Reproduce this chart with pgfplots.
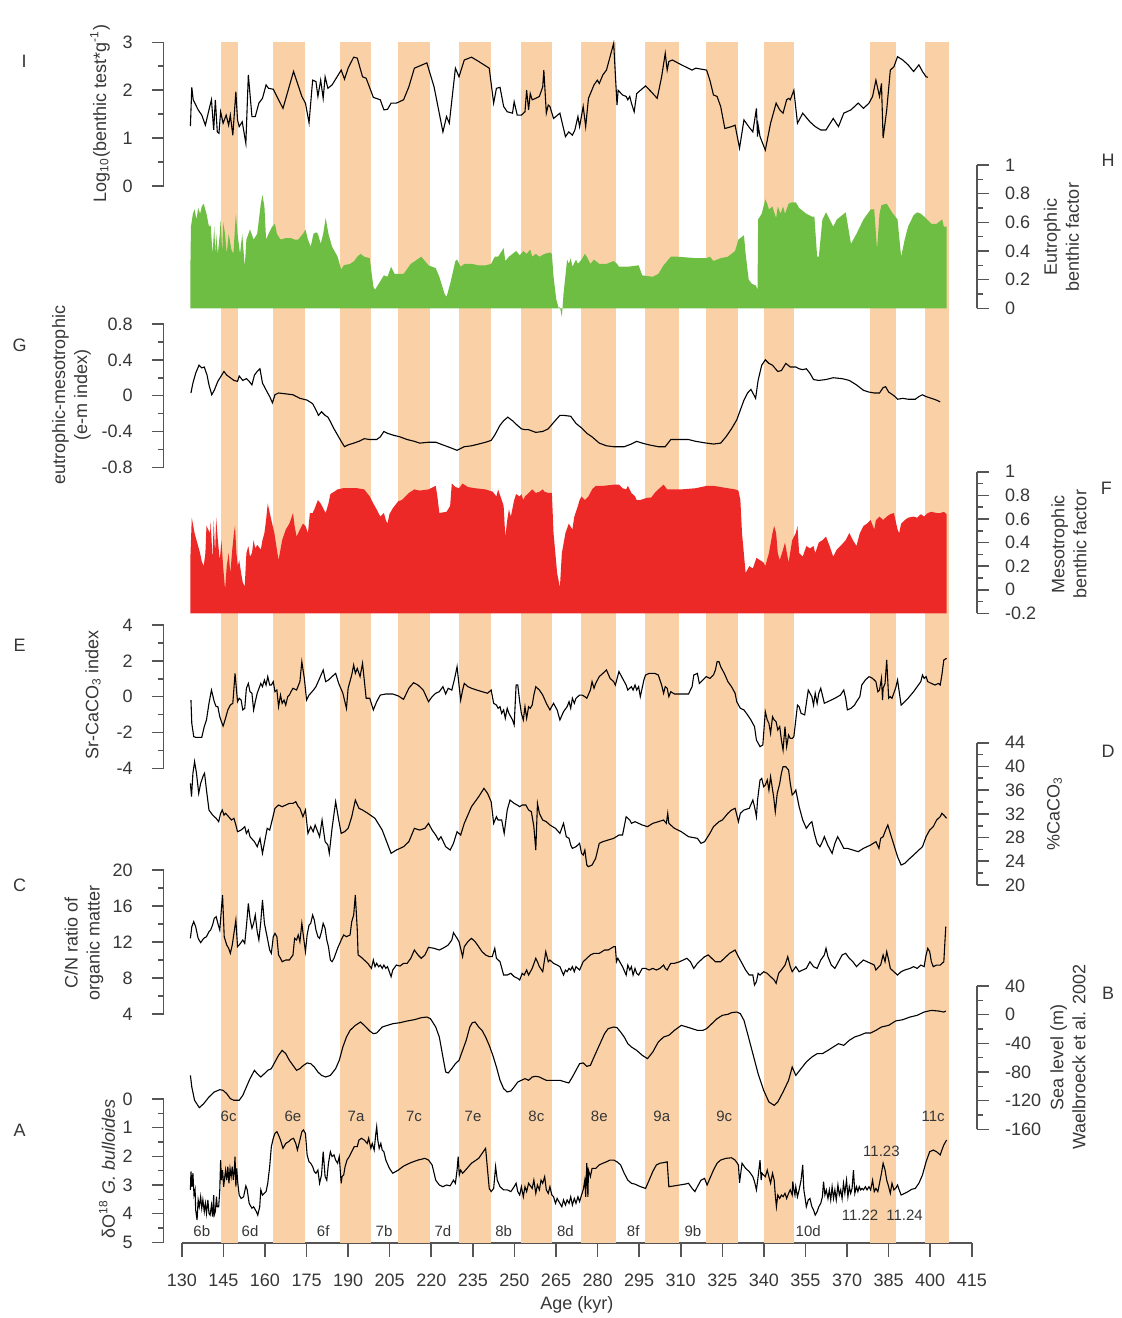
\documentclass[border=0pt]{standalone}
\usepackage{fontspec}
\setmainfont{Liberation Sans}
\usepackage{pgfplots}
\pgfplotsset{compat=1.18}
\definecolor{band}{RGB}{250,209,167}
\definecolor{eugreen}{RGB}{110,190,68}
\definecolor{mesored}{RGB}{236,41,38}
\definecolor{axgray}{RGB}{85,85,85}
\definecolor{txtgray}{RGB}{55,55,55}
\newcommand{\lbl}{\fontsize{9}{11}\selectfont}
\newcommand{\ann}{\fontsize{7.5}{9}\selectfont}
\pgfplotsset{
  panel/.style={scale only axis, width=406.7pt, xmin=123.43, xmax=416.87,
    axis x line=none, clip=false, anchor=south west,
    axis line style={-, draw=axgray, line width=0.8pt},
    tick style={draw=axgray, line width=0.8pt},
    tick align=outside, major tick length=6pt, minor tick length=3pt,
    minor y tick num=1,
    tick label style={font=\lbl, text=txtgray},
    /pgf/number format/assume math mode=true,
    /pgf/number format/fixed},
  lpanel/.style={axis y line=left, panel, yticklabel style={anchor=east, inner sep=0pt, xshift=-9.3pt}},
  rpanel/.style={axis y line=right, panel, yticklabel style={anchor=west, inner sep=0pt, xshift=7.8pt}},
  dline/.style={draw=black, line width=0.55pt},
}
\begin{document}
\begin{tikzpicture}
\useasboundingbox (0,0) rectangle (560.5pt,-659pt);
% ---------- background: bands and age axis
\begin{axis}[scale only axis, width=395pt, height=600.5pt, at={(90.9pt,-621.35pt)}, anchor=south west,
  xmin=130, xmax=415, ymin=0, ymax=1, axis x line=bottom, axis y line=none, clip=false,
  axis line style={-, draw=axgray, line width=0.8pt}, tick style={draw=axgray, line width=0.8pt},
  tick align=outside, major tick length=7pt,
  xtick={130,145,...,415},
  xticklabels={130,\raisebox{2.5pt}{145},160,\raisebox{2.5pt}{175},190,\raisebox{2.5pt}{205},220,\raisebox{2.5pt}{235},250,\raisebox{2.5pt}{265},280,\raisebox{2.5pt}{295},310,\raisebox{2.5pt}{325},340,\raisebox{2.5pt}{355},370,\raisebox{2.5pt}{385},400,\raisebox{2.5pt}{415}},
  xticklabel style={font=\lbl, text=txtgray, anchor=north, inner sep=0pt, yshift=-8.3pt}]
\addplot[fill=band, draw=none] coordinates {(144.03,0)(144.03,1)(150.35,1)(150.35,0)};
\addplot[fill=band, draw=none] coordinates {(162.86,0)(162.86,1)(174.30,1)(174.30,0)};
\addplot[fill=band, draw=none] coordinates {(187.07,0)(187.07,1)(198.40,1)(198.40,0)};
\addplot[fill=band, draw=none] coordinates {(208.07,0)(208.07,1)(219.39,1)(219.39,0)};
\addplot[fill=band, draw=none] coordinates {(230.11,0)(230.11,1)(241.58,1)(241.58,0)};
\addplot[fill=band, draw=none] coordinates {(252.26,0)(252.26,1)(263.59,1)(263.59,0)};
\addplot[fill=band, draw=none] coordinates {(274.16,0)(274.16,1)(286.78,1)(286.78,0)};
\addplot[fill=band, draw=none] coordinates {(297.10,0)(297.10,1)(309.33,1)(309.33,0)};
\addplot[fill=band, draw=none] coordinates {(319.25,0)(319.25,1)(330.61,1)(330.61,0)};
\addplot[fill=band, draw=none] coordinates {(340.14,0)(340.14,1)(350.81,1)(350.81,0)};
\addplot[fill=band, draw=none] coordinates {(378.27,0)(378.27,1)(387.54,1)(387.54,0)};
\addplot[fill=band, draw=none] coordinates {(398.25,0)(398.25,1)(406.62,1)(406.62,0)};
\end{axis}
% ---------- I
\begin{axis}[lpanel, at={(81.8pt,-93pt)}, height=71.85pt, ymin=0, ymax=3, ytick={0,1,2,3}]
\addplot[dline] coordinates {(133.1,1.25)(133.6,2.06)(134.1,1.80)(135.9,1.59)(137.2,1.48)(138.5,1.27)(139.8,1.59)(140.7,1.80)(141.5,1.17)(142.1,1.80)(142.8,1.13)(143.4,1.10)(144.0,1.55)(144.9,1.31)(146.0,1.48)(146.9,1.27)(147.5,1.48)(148.4,1.06)(149.5,1.97)(150.1,1.38)(150.7,1.24)(151.8,1.34)(153.1,0.89)(154.0,2.32)(155.3,1.45)(156.5,1.45)(157.8,1.73)(159.1,1.83)(160.4,2.11)(161.3,2.04)(163.0,2.02)(164.3,1.87)(166.5,1.62)(170.3,2.39)(173.3,1.87)(174.6,1.73)(175.9,1.32)(177.2,2.21)(178.4,2.18)(179.1,1.87)(180.1,2.21)(181.0,1.83)(181.7,2.28)(182.7,2.04)(184.2,2.11)(187.5,2.42)(188.7,2.23)(190.0,2.46)(192.0,2.69)(193.3,2.67)(195.2,2.28)(196.5,2.25)(199.1,1.85)(201.6,1.80)(202.9,1.59)(204.2,1.60)(205.5,1.73)(207.4,1.73)(210.0,1.80)(211.9,2.07)(213.9,2.46)(218.4,2.57)(221.0,2.07)(224.2,1.13)(225.5,1.45)(226.5,1.31)(228.7,2.46)(230.0,2.28)(231.9,2.63)(234.5,2.69)(237.1,2.60)(240.9,2.46)(242.5,1.73)(243.5,2.04)(244.8,2.06)(246.1,1.66)(247.4,1.55)(249.3,1.52)(249.9,1.76)(251.0,1.48)(252.5,1.48)(253.8,1.55)(254.4,2.00)(255.1,1.59)(255.7,1.93)(256.4,1.80)(257.7,1.83)(259.0,1.87)(260.2,2.07)(260.6,2.42)(261.5,1.52)(262.2,1.69)(262.8,1.66)(264.1,1.41)(266.4,1.52)(268.4,1.03)(269.6,1.13)(270.9,1.06)(271.8,1.17)(272.9,1.45)(273.5,1.24)(274.8,1.66)(275.7,1.24)(276.7,1.83)(278.7,2.11)(279.9,2.21)(280.6,2.14)(281.9,2.32)(283.2,2.42)(284.5,2.70)(285.8,2.98)(287.0,1.69)(287.4,2.00)(289.0,1.90)(290.3,1.87)(290.9,1.80)(291.6,1.87)(292.2,1.73)(293.2,1.55)(294.1,1.93)(297.3,2.09)(299.3,1.97)(301.5,1.83)(303.1,2.28)(304.4,2.77)(305.1,2.42)(305.7,2.60)(307.0,2.63)(310.2,2.53)(314.1,2.42)(315.4,2.46)(319.3,2.42)(320.5,2.21)(321.8,1.90)(323.1,1.87)(324.4,1.66)(325.9,1.20)(328.3,1.24)(329.6,1.27)(331.2,0.79)(332.8,1.38)(334.5,1.24)(336.0,1.13)(337.3,1.62)(337.7,1.03)(337.9,1.27)(338.6,1.03)(340.5,0.75)(342.4,1.31)(344.4,1.73)(345.7,1.59)(346.9,1.52)(348.2,1.80)(348.9,1.83)(349.5,1.80)(350.8,2.00)(352.1,1.31)(354.0,1.52)(356.6,1.34)(358.5,1.24)(360.5,1.17)(362.4,1.17)(365.0,1.41)(366.9,1.24)(368.8,1.52)(371.4,1.59)(374.0,1.73)(375.9,1.62)(377.9,1.73)(379.2,1.87)(380.4,2.21)(381.7,1.87)(382.4,2.14)(383.0,1.00)(384.3,1.59)(385.6,2.42)(386.9,2.49)(388.2,2.70)(390.1,2.63)(392.0,2.53)(394.0,2.39)(395.9,2.53)(397.2,2.39)(398.5,2.28)(399.1,2.27)};
\end{axis}
% ---------- H
\begin{axis}[rpanel, at={(81.8pt,-154.15pt)}, height=71.65pt, ymin=0, ymax=1, ytick={0,0.2,0.4,0.6,0.8,1}]
\addplot[fill=eugreen, draw=none] coordinates {(133.1,0)(133.1,0.29)(133.3,0.57)(134.0,0.66)(134.6,0.69)(135.3,0.62)(135.9,0.70)(136.6,0.66)(137.2,0.71)(137.9,0.73)(138.9,0.66)(139.8,0.57)(140.4,0.58)(141.1,0.38)(141.7,0.57)(142.1,0.38)(142.4,0.52)(143.0,0.38)(143.7,0.52)(144.0,0.62)(144.6,0.38)(144.9,0.60)(145.6,0.52)(146.2,0.38)(146.9,0.52)(147.9,0.41)(148.6,0.38)(149.5,0.66)(150.1,0.52)(151.0,0.38)(151.8,0.52)(152.7,0.29)(153.3,0.48)(154.6,0.55)(155.9,0.48)(157.2,0.52)(158.5,0.73)(159.1,0.79)(159.8,0.71)(160.4,0.48)(161.3,0.52)(162.6,0.57)(163.6,0.59)(164.3,0.52)(165.6,0.48)(167.5,0.49)(169.4,0.49)(170.7,0.48)(172.0,0.48)(173.7,0.52)(174.6,0.55)(175.5,0.48)(176.5,0.43)(177.5,0.52)(178.4,0.53)(179.1,0.52)(180.1,0.45)(181.0,0.52)(181.9,0.63)(182.9,0.52)(184.2,0.43)(186.2,0.36)(187.5,0.27)(188.4,0.30)(190.7,0.31)(192.2,0.33)(193.3,0.36)(194.5,0.38)(195.8,0.36)(197.8,0.35)(199.1,0.15)(199.7,0.13)(201.0,0.17)(202.9,0.23)(204.2,0.22)(205.5,0.29)(206.8,0.24)(208.1,0.24)(210.0,0.24)(212.6,0.31)(216.4,0.36)(219.0,0.30)(221.6,0.28)(222.9,0.22)(224.8,0.10)(225.5,0.08)(226.8,0.17)(228.7,0.33)(229.3,0.34)(230.6,0.29)(231.9,0.31)(234.5,0.31)(237.1,0.30)(239.6,0.30)(241.6,0.31)(242.9,0.36)(244.1,0.36)(246.1,0.42)(246.7,0.33)(248.0,0.36)(249.3,0.38)(250.6,0.40)(251.9,0.37)(253.2,0.40)(254.4,0.38)(255.7,0.41)(256.4,0.36)(257.7,0.38)(259.0,0.36)(260.9,0.38)(262.8,0.39)(263.5,0.38)(264.1,0.22)(265.1,0.06)(266.0,0.0)(266.4,0.01)(267.1,-0.06)(267.7,0.10)(269.0,0.34)(269.6,0.31)(270.3,0.35)(270.9,0.29)(272.2,0.34)(272.9,0.31)(274.2,0.34)(275.4,0.38)(276.1,0.36)(277.4,0.31)(278.7,0.34)(280.6,0.31)(283.2,0.31)(285.8,0.33)(287.0,0.31)(287.7,0.29)(290.9,0.29)(294.8,0.30)(296.1,0.23)(299.9,0.22)(301.9,0.24)(303.8,0.30)(306.4,0.36)(308.9,0.36)(315.4,0.35)(319.3,0.35)(320.5,0.36)(321.8,0.33)(324.4,0.35)(327.0,0.36)(329.6,0.40)(330.8,0.48)(332.8,0.51)(333.4,0.38)(334.5,0.20)(335.7,0.17)(337.0,0.16)(337.3,0.15)(337.7,0.13)(337.9,0.62)(339.2,0.66)(340.5,0.76)(341.2,0.73)(341.8,0.69)(343.1,0.71)(343.7,0.67)(344.4,0.63)(345.0,0.71)(346.0,0.66)(346.9,0.71)(347.6,0.66)(348.9,0.73)(350.2,0.74)(351.5,0.74)(352.7,0.70)(355.3,0.66)(357.3,0.64)(358.2,0.64)(359.2,0.36)(359.8,0.36)(361.1,0.62)(362.4,0.67)(363.7,0.62)(365.0,0.57)(366.3,0.62)(368.9,0.66)(369.5,0.67)(371.4,0.45)(373.4,0.52)(375.9,0.62)(378.5,0.69)(379.8,0.69)(380.8,0.41)(381.7,0.66)(382.4,0.72)(384.3,0.73)(386.2,0.67)(388.2,0.62)(389.5,0.36)(390.8,0.48)(392.0,0.57)(394.0,0.65)(395.3,0.67)(396.6,0.66)(397.8,0.64)(400.4,0.59)(402.3,0.59)(404.3,0.62)(404.9,0.57)(405.9,0.57)(405.9,0)};
\end{axis}
% ---------- G
\begin{axis}[lpanel, at={(81.8pt,-233.65pt)}, height=71.65pt, ymin=-0.8, ymax=0.8, ytick={-0.8,-0.4,0,0.4,0.8}]
\addplot[dline] coordinates {(133.3,0.03)(134.0,0.14)(135.0,0.25)(136.2,0.34)(137.2,0.31)(138.1,0.32)(139.1,0.23)(139.8,0.12)(140.8,0.01)(141.7,0.06)(143.0,0.16)(144.0,0.21)(145.2,0.27)(146.2,0.23)(147.5,0.20)(148.8,0.17)(150.1,0.16)(150.7,0.22)(152.0,0.17)(153.3,0.19)(154.3,0.16)(155.3,0.12)(156.2,0.23)(157.2,0.27)(158.2,0.30)(159.1,0.14)(159.8,0.10)(160.8,0.04)(161.7,-0.01)(162.7,-0.08)(163.6,0.01)(164.9,0.03)(167.5,0.02)(170.1,0.01)(172.6,-0.03)(175.2,-0.05)(177.2,-0.09)(178.4,-0.16)(179.3,-0.22)(180.4,-0.18)(181.7,-0.22)(182.7,-0.24)(183.6,-0.29)(184.9,-0.37)(186.2,-0.44)(187.5,-0.51)(188.7,-0.57)(190.0,-0.55)(192.0,-0.53)(193.9,-0.51)(195.8,-0.48)(197.8,-0.49)(200.3,-0.49)(201.6,-0.46)(202.9,-0.40)(204.2,-0.42)(206.1,-0.44)(208.7,-0.46)(211.3,-0.49)(213.9,-0.51)(215.8,-0.53)(219.0,-0.52)(221.6,-0.52)(224.2,-0.55)(226.8,-0.58)(229.3,-0.61)(230.6,-0.59)(231.9,-0.57)(234.5,-0.56)(237.1,-0.54)(239.6,-0.52)(241.6,-0.50)(242.9,-0.44)(244.8,-0.33)(246.1,-0.28)(247.6,-0.24)(249.3,-0.28)(251.0,-0.33)(252.5,-0.37)(253.8,-0.38)(255.1,-0.38)(257.7,-0.41)(260.2,-0.40)(262.2,-0.37)(264.1,-0.30)(266.4,-0.22)(267.7,-0.22)(270.3,-0.23)(272.2,-0.31)(274.2,-0.36)(276.1,-0.42)(278.0,-0.46)(280.6,-0.53)(283.2,-0.56)(285.8,-0.57)(289.6,-0.57)(292.2,-0.54)(294.1,-0.51)(296.1,-0.53)(298.6,-0.55)(301.9,-0.57)(304.4,-0.57)(306.4,-0.49)(308.9,-0.49)(312.8,-0.49)(315.4,-0.51)(319.3,-0.53)(321.8,-0.54)(324.4,-0.53)(326.3,-0.46)(328.3,-0.37)(330.2,-0.27)(331.5,-0.16)(332.8,-0.05)(334.1,0.03)(335.3,0.07)(336.0,0.03)(337.0,-0.03)(337.9,0.17)(339.2,0.34)(340.5,0.40)(341.8,0.36)(343.1,0.34)(345.0,0.27)(346.3,0.28)(347.9,0.36)(349.5,0.32)(351.5,0.32)(352.7,0.30)(354.0,0.29)(355.3,0.30)(356.6,0.25)(357.9,0.18)(359.8,0.17)(362.4,0.18)(365.0,0.20)(368.2,0.19)(370.8,0.17)(373.4,0.12)(375.9,0.06)(377.9,0.04)(379.8,0.03)(381.7,0.03)(383.0,0.09)(383.9,0.10)(385.0,0.04)(386.9,0.00)(388.2,-0.04)(390.1,-0.03)(392.0,-0.04)(394.6,-0.04)(395.9,-0.01)(397.2,0.01)(398.5,-0.01)(400.4,-0.03)(402.3,-0.05)(403.6,-0.07)};
\end{axis}
% ---------- F
\begin{axis}[rpanel, at={(81.8pt,-306.65pt)}, height=70.8pt, ymin=-0.2, ymax=1, ytick={-0.2,0,0.2,0.4,0.6,0.8,1}]
\addplot[fill=mesored, draw=none] coordinates {(133.1,-0.2)(133.1,0.28)(133.6,0.61)(134.6,0.48)(135.3,0.42)(135.9,0.37)(136.6,0.31)(137.2,0.24)(137.9,0.20)(138.5,0.31)(138.9,0.54)(139.5,0.51)(140.2,0.48)(140.4,0.58)(141.1,0.25)(141.5,0.59)(142.0,0.31)(142.4,0.61)(143.0,0.42)(143.7,0.25)(144.3,0.42)(144.9,0.20)(145.6,0.00)(146.2,0.20)(146.9,0.31)(147.5,0.14)(148.2,0.34)(148.8,0.48)(149.2,0.54)(149.7,0.31)(150.2,0.20)(150.7,0.25)(151.4,0.14)(152.0,0.06)(152.7,0.03)(153.3,0.31)(154.0,0.37)(154.6,0.28)(155.3,0.31)(155.9,0.42)(156.5,0.35)(157.2,0.38)(158.5,0.34)(159.1,0.42)(159.8,0.48)(160.4,0.59)(161.0,0.73)(162.3,0.59)(163.4,0.48)(164.3,0.34)(164.9,0.25)(166.2,0.42)(167.5,0.51)(168.8,0.56)(170.1,0.65)(170.7,0.54)(171.4,0.45)(172.6,0.51)(173.7,0.56)(174.6,0.54)(175.5,0.48)(176.2,0.65)(177.2,0.65)(177.8,0.68)(179.1,0.76)(180.1,0.73)(181.0,0.69)(181.9,0.65)(182.9,0.73)(183.6,0.81)(184.9,0.83)(186.2,0.85)(188.1,0.86)(190.0,0.86)(193.3,0.86)(195.8,0.85)(197.8,0.79)(199.1,0.73)(200.3,0.68)(201.6,0.62)(202.9,0.65)(203.6,0.59)(204.2,0.56)(204.9,0.64)(206.1,0.69)(208.1,0.75)(209.4,0.76)(211.9,0.82)(213.9,0.85)(215.8,0.84)(219.0,0.85)(221.6,0.88)(222.2,0.79)(222.9,0.65)(225.5,0.66)(226.8,0.71)(227.4,0.90)(228.7,0.87)(230.0,0.86)(231.3,0.90)(233.2,0.87)(235.8,0.86)(239.6,0.85)(242.2,0.83)(243.5,0.79)(244.1,0.85)(245.4,0.76)(246.1,0.71)(246.7,0.45)(247.4,0.59)(248.0,0.68)(248.7,0.62)(249.9,0.76)(250.6,0.81)(251.9,0.79)(252.5,0.81)(253.2,0.76)(253.8,0.79)(255.1,0.82)(256.4,0.85)(257.7,0.82)(259.0,0.83)(260.2,0.85)(260.9,0.83)(262.2,0.82)(263.5,0.82)(264.1,0.48)(265.4,0.14)(266.4,0.02)(267.1,0.31)(268.4,0.48)(269.6,0.56)(270.9,0.51)(271.6,0.62)(272.9,0.71)(273.5,0.76)(274.2,0.79)(275.4,0.76)(276.7,0.79)(278.0,0.85)(279.3,0.88)(281.9,0.88)(285.8,0.89)(287.7,0.89)(289.0,0.86)(290.3,0.85)(290.9,0.88)(292.2,0.82)(293.5,0.79)(294.1,0.76)(295.4,0.76)(298.0,0.78)(299.3,0.78)(300.6,0.82)(301.9,0.85)(303.8,0.89)(305.1,0.85)(306.4,0.85)(310.2,0.85)(315.4,0.86)(319.3,0.88)(321.8,0.88)(324.4,0.87)(327.0,0.86)(329.6,0.85)(330.8,0.84)(331.5,0.76)(332.1,0.48)(333.4,0.14)(334.7,0.20)(336.0,0.18)(337.3,0.27)(338.6,0.25)(339.9,0.23)(340.5,0.20)(341.8,0.31)(343.1,0.48)(343.7,0.54)(344.4,0.48)(345.0,0.31)(345.7,0.25)(346.9,0.34)(347.6,0.40)(348.9,0.23)(350.2,0.42)(351.5,0.48)(352.1,0.54)(352.7,0.31)(354.0,0.28)(355.3,0.37)(356.6,0.35)(357.9,0.37)(358.5,0.31)(359.8,0.40)(361.1,0.42)(362.4,0.45)(363.7,0.37)(365.0,0.28)(366.3,0.34)(367.6,0.37)(369.5,0.42)(370.8,0.48)(372.1,0.42)(373.4,0.37)(374.6,0.48)(375.9,0.54)(377.2,0.56)(378.5,0.59)(379.8,0.51)(380.4,0.59)(381.7,0.62)(383.0,0.59)(384.3,0.62)(385.6,0.64)(386.9,0.65)(388.2,0.51)(388.8,0.48)(389.5,0.56)(390.8,0.59)(392.0,0.61)(394.0,0.62)(395.3,0.61)(396.6,0.64)(397.8,0.62)(399.1,0.65)(400.4,0.66)(402.3,0.65)(403.6,0.65)(404.9,0.66)(405.9,0.64)(405.9,-0.2)};
\end{axis}
% ---------- E
\begin{axis}[lpanel, at={(81.8pt,-384.15pt)}, height=71.65pt, ymin=-4, ymax=4, ytick={-4,-2,0,2,4}]
\addplot[dline] coordinates {(133.3,-0.19)(133.6,-1.49)(134.3,-2.23)(135.0,-2.27)(136.3,-2.27)(137.2,-2.27)(138.1,-1.67)(138.9,-1.30)(139.8,-0.37)(140.7,0.37)(141.7,-0.28)(142.4,-0.56)(143.0,-0.56)(143.7,-1.12)(144.3,-1.40)(144.9,-1.64)(145.6,-1.30)(146.6,-0.74)(147.5,-0.47)(148.4,-0.37)(149.2,1.30)(150.1,-0.28)(150.7,-0.09)(151.4,-0.19)(152.0,-0.74)(152.7,-0.65)(153.3,0.47)(154.0,0.74)(154.6,0.28)(155.3,0.19)(155.9,-0.74)(156.5,-0.28)(157.2,0.19)(158.5,0.74)(159.1,0.56)(159.8,0.93)(160.4,0.65)(161.0,1.12)(161.7,0.65)(162.3,0.65)(163.0,0.84)(163.6,0.28)(164.3,0.37)(164.9,-0.56)(165.6,0.09)(166.2,-0.37)(166.9,-0.19)(167.5,-0.47)(168.2,0.00)(168.8,0.09)(169.4,0.28)(170.1,0.47)(171.4,0.37)(172.6,0.84)(173.3,1.95)(174.2,1.02)(175.0,-0.19)(175.9,0.09)(176.5,0.19)(177.5,0.37)(178.4,0.56)(179.7,1.02)(181.0,1.49)(181.9,0.84)(182.9,0.93)(184.2,1.12)(185.5,1.30)(186.6,0.74)(188.1,0.19)(189.4,-0.65)(190.0,0.47)(191.3,1.21)(192.0,1.77)(192.6,1.30)(193.3,1.58)(194.3,1.12)(195.2,1.86)(196.5,-0.09)(197.8,-0.09)(199.1,-0.74)(200.3,-0.28)(201.6,0.09)(203.6,0.15)(206.1,0.15)(208.1,0.04)(210.0,-0.15)(211.9,0.47)(213.6,0.78)(215.2,0.65)(217.1,0.37)(219.0,-0.28)(220.3,0.00)(221.6,0.19)(222.9,0.28)(224.2,0.56)(225.2,0.15)(226.1,0.47)(227.4,0.37)(228.3,0.93)(229.3,1.67)(230.0,0.65)(230.6,-0.19)(231.3,0.37)(231.9,0.74)(233.2,0.56)(234.5,0.47)(236.4,0.37)(238.3,0.28)(240.3,0.19)(241.6,0.37)(242.5,-0.37)(243.5,-0.47)(244.1,-0.65)(244.8,-0.56)(245.4,-0.93)(246.1,-0.74)(246.7,-1.21)(247.4,-0.65)(248.0,-0.93)(249.3,-1.30)(249.9,-1.58)(250.6,0.65)(251.2,0.65)(251.9,-0.28)(252.5,-0.93)(253.2,-1.30)(253.8,-0.56)(254.4,-1.21)(255.1,-0.56)(255.7,-0.65)(256.4,-0.47)(257.0,0.09)(257.7,0.56)(258.3,0.47)(259.0,0.37)(260.2,0.09)(261.5,-0.37)(262.8,-0.74)(264.1,-0.37)(265.4,-0.74)(266.4,-1.30)(267.7,-0.84)(269.0,-0.56)(269.7,-0.28)(270.3,-0.65)(270.9,-0.09)(271.6,-0.37)(272.2,-0.09)(273.5,0.09)(274.4,0.09)(275.4,0.00)(276.1,-0.09)(277.4,0.37)(278.0,0.84)(278.7,0.47)(279.3,0.74)(280.6,1.12)(281.9,1.30)(283.2,1.49)(284.5,1.02)(285.8,0.84)(286.4,0.65)(287.7,1.40)(289.0,1.02)(290.3,0.65)(290.9,0.37)(292.2,0.56)(292.8,0.37)(293.5,0.65)(294.1,0.37)(294.8,0.56)(295.4,0.00)(296.7,0.93)(297.3,1.21)(298.6,1.30)(300.6,1.30)(301.9,1.21)(302.5,0.93)(303.1,0.65)(303.8,0.19)(304.4,0.56)(305.1,0.47)(305.7,0.00)(306.4,0.28)(307.7,0.15)(312.8,0.15)(314.1,0.56)(314.7,1.21)(316.0,1.30)(316.7,0.74)(318.0,0.93)(319.2,1.12)(320.5,1.02)(321.8,1.21)(322.5,1.49)(323.1,1.95)(323.8,1.95)(324.4,1.67)(325.7,1.30)(327.0,0.84)(328.3,0.56)(329.6,0.19)(330.2,-0.28)(331.5,-0.65)(332.8,-0.74)(334.1,-1.02)(335.3,-1.30)(336.6,-1.67)(337.3,-2.42)(338.6,-2.79)(339.6,-2.70)(340.5,-0.84)(341.2,-1.30)(341.8,-1.49)(342.4,-2.05)(343.1,-1.12)(343.7,-1.30)(344.4,-1.40)(345.0,-1.86)(345.7,-1.67)(346.3,-2.42)(346.9,-2.98)(347.6,-1.67)(348.2,-2.79)(348.9,-2.14)(349.5,-2.33)(350.2,-2.33)(350.8,-2.23)(351.5,-1.30)(352.1,-0.47)(352.7,-0.56)(353.4,-0.93)(354.7,-1.02)(355.3,-0.37)(356.0,0.37)(356.6,0.19)(357.3,0.00)(357.9,-0.47)(358.5,0.19)(359.2,-0.37)(359.8,0.19)(360.5,0.47)(361.8,-0.37)(363.0,-0.28)(364.3,-0.19)(365.6,-0.09)(367.6,0.09)(368.8,0.37)(369.5,-0.09)(370.1,-0.74)(371.4,-0.65)(372.7,-0.47)(373.4,-0.28)(374.6,0.00)(375.3,0.65)(376.6,0.93)(377.9,1.12)(379.2,1.02)(380.4,0.84)(381.1,0.28)(381.7,0.37)(382.4,1.02)(382.8,-0.19)(383.0,0.47)(383.7,0.74)(384.3,2.05)(385.0,-0.09)(385.6,0.00)(386.2,-0.09)(387.5,0.47)(388.2,0.93)(389.5,-0.47)(390.8,-0.28)(392.0,-0.09)(394.0,0.28)(395.3,0.56)(396.6,0.84)(397.2,1.21)(397.8,1.02)(398.5,1.12)(399.1,0.84)(400.4,0.74)(401.7,0.65)(403.0,0.74)(403.6,0.65)(404.2,1.21)(404.9,2.05)(405.9,2.14)};
\end{axis}
% ---------- D
\begin{axis}[rpanel, at={(81.8pt,-442.5pt)}, height=71.15pt, ymin=20, ymax=44, ytick={20,24,28,32,36,40,44}]
\addplot[dline] coordinates {(133.1,37.14)(133.5,34.90)(134.0,38.83)(134.6,40.80)(135.3,38.83)(136.1,35.46)(136.8,37.14)(137.6,38.27)(138.2,38.83)(138.9,36.02)(139.8,32.65)(141.1,31.80)(142.4,31.24)(143.3,30.68)(144.0,32.09)(144.6,32.65)(145.2,31.80)(145.8,32.09)(146.9,31.52)(147.9,30.96)(148.8,31.24)(149.5,30.12)(150.1,28.99)(151.4,29.27)(152.7,29.84)(153.3,28.71)(154.0,29.27)(154.6,28.15)(156.2,27.31)(157.2,26.46)(158.2,27.87)(159.1,25.34)(160.0,27.59)(160.8,29.56)(161.7,29.27)(162.6,30.96)(163.6,32.93)(164.9,33.49)(166.2,33.21)(167.5,33.49)(168.8,33.77)(170.1,33.77)(171.1,34.05)(172.0,33.21)(172.6,32.93)(173.7,31.52)(174.6,32.65)(175.5,28.71)(176.5,29.84)(177.4,28.99)(178.1,30.12)(178.8,29.27)(179.7,28.15)(180.6,30.96)(181.7,27.31)(182.7,26.75)(183.2,25.34)(184.2,29.56)(185.5,34.05)(186.6,30.96)(187.5,28.71)(188.7,28.99)(190.0,29.56)(191.3,31.52)(192.6,34.33)(193.9,32.93)(195.2,32.65)(197.1,32.09)(199.7,31.24)(202.3,29.27)(205.5,25.34)(207.4,25.90)(210.0,26.46)(211.9,27.31)(213.9,29.56)(215.8,29.27)(217.7,29.56)(219.0,30.40)(220.3,29.27)(221.6,28.43)(222.6,27.59)(223.5,28.15)(225.2,26.46)(226.8,25.90)(228.0,27.03)(229.3,28.99)(230.6,28.43)(231.9,30.40)(234.5,33.21)(237.1,34.90)(239.0,36.30)(240.3,35.46)(241.6,34.05)(242.5,30.40)(243.5,31.52)(244.1,30.96)(245.4,30.96)(246.3,28.71)(247.4,32.65)(248.4,34.33)(249.9,33.77)(251.0,33.49)(251.9,33.21)(252.8,33.49)(254.1,33.49)(255.1,32.65)(256.1,32.37)(257.0,29.84)(257.7,25.90)(258.3,33.77)(259.0,32.09)(260.2,30.96)(261.5,30.68)(262.8,30.12)(264.8,29.56)(266.4,28.71)(267.7,30.40)(268.7,28.15)(269.7,27.87)(270.3,26.75)(270.9,26.18)(272.2,26.46)(273.5,27.03)(274.2,25.34)(274.8,25.06)(275.4,25.90)(276.1,23.37)(276.7,23.09)(278.0,23.37)(279.3,24.50)(280.6,27.03)(281.9,27.31)(283.8,27.59)(285.8,27.87)(287.7,28.43)(289.0,28.43)(290.3,31.52)(291.6,30.96)(292.2,30.40)(293.5,30.68)(294.8,30.40)(296.1,30.12)(298.0,29.84)(299.9,30.40)(301.9,30.68)(303.8,30.96)(304.8,30.40)(305.3,32.09)(305.7,30.40)(307.7,29.56)(310.2,28.99)(312.8,28.15)(316.0,27.87)(317.3,27.03)(318.6,27.31)(320.5,28.71)(321.8,29.84)(323.8,30.68)(325.0,30.96)(327.0,32.09)(328.3,32.65)(329.6,32.93)(330.8,30.68)(331.5,32.09)(332.8,32.65)(334.7,32.93)(336.0,34.33)(336.6,33.21)(337.3,31.52)(337.7,34.33)(338.6,37.71)(339.2,37.99)(339.9,36.58)(340.5,36.86)(341.2,37.71)(341.8,36.02)(342.4,38.27)(343.5,34.90)(344.1,32.37)(344.8,35.46)(345.7,37.14)(346.3,38.83)(346.9,39.95)(347.9,39.95)(348.9,39.39)(349.5,37.14)(350.2,35.18)(350.8,35.46)(351.5,36.02)(352.7,33.21)(354.0,30.96)(355.3,29.56)(356.6,30.40)(357.3,30.68)(358.2,28.71)(359.2,27.03)(360.2,26.46)(361.1,27.31)(361.8,28.15)(363.0,26.75)(364.6,25.34)(365.6,27.03)(366.6,28.15)(367.6,27.31)(368.8,26.18)(370.1,26.18)(372.1,25.90)(374.0,25.62)(375.9,26.18)(378.5,26.75)(380.4,27.31)(381.5,26.18)(382.1,27.87)(383.0,28.15)(383.9,29.27)(384.7,30.12)(385.6,28.71)(386.9,26.75)(388.2,24.78)(389.5,23.37)(390.8,23.65)(392.0,24.22)(394.0,25.06)(395.9,25.90)(397.2,26.46)(398.5,28.15)(399.8,29.27)(401.1,29.84)(402.3,30.96)(403.6,31.52)(404.2,32.09)(404.9,31.80)(405.9,31.24)};
\end{axis}
% ---------- C
\begin{axis}[lpanel, at={(81.8pt,-507pt)}, height=72pt, ymin=4, ymax=20, ytick={4,8,12,16,20}]
\addplot[dline] coordinates {(133.1,12.41)(133.6,13.70)(134.3,14.26)(135.0,13.70)(135.9,12.41)(136.8,11.93)(137.9,12.41)(138.9,12.59)(139.8,13.15)(140.4,13.33)(141.1,13.89)(141.7,14.63)(142.4,14.81)(143.0,14.07)(143.7,13.33)(144.3,15.74)(144.7,17.22)(145.3,12.59)(146.2,11.67)(146.9,11.30)(147.5,10.74)(148.2,11.67)(148.8,12.96)(149.5,14.44)(150.1,11.48)(150.7,11.67)(152.0,12.22)(152.7,11.85)(153.3,13.70)(154.0,16.30)(154.6,14.63)(155.3,13.52)(155.9,14.07)(156.5,15.00)(157.2,13.15)(157.8,12.22)(158.5,14.26)(159.1,16.67)(159.8,14.07)(160.4,13.15)(161.0,12.22)(161.7,11.11)(162.3,10.74)(163.0,12.59)(163.6,12.96)(164.3,12.59)(164.9,10.56)(165.6,10.19)(166.2,9.81)(167.5,10.00)(168.8,10.00)(170.1,10.56)(170.7,12.41)(171.4,12.22)(172.0,12.78)(172.6,12.04)(173.3,14.07)(173.9,12.59)(174.6,10.93)(175.2,12.78)(175.9,13.89)(176.5,14.07)(177.2,15.00)(177.8,14.44)(178.4,13.33)(179.1,12.59)(179.7,12.41)(180.4,13.15)(181.0,14.07)(181.7,13.52)(182.3,12.22)(182.9,11.48)(183.6,10.00)(184.2,9.81)(184.9,10.19)(186.2,11.30)(187.5,12.22)(188.4,12.78)(189.4,12.59)(190.7,12.78)(191.3,14.26)(192.0,15.00)(192.6,17.22)(193.3,13.33)(193.6,10.56)(194.5,10.37)(195.8,10.00)(197.1,9.63)(198.4,9.07)(199.1,10.00)(199.7,9.26)(200.3,9.63)(201.0,9.26)(201.6,9.44)(202.3,9.07)(202.9,9.44)(203.6,9.07)(204.2,9.26)(205.5,8.15)(206.1,8.89)(207.4,9.44)(208.7,9.33)(210.0,9.63)(211.3,9.63)(212.6,10.19)(213.9,11.11)(215.2,10.56)(216.4,10.19)(217.7,10.56)(219.0,11.41)(221.0,11.30)(222.9,11.11)(224.8,11.41)(226.1,11.67)(227.4,12.22)(228.0,13.04)(229.3,12.41)(230.0,12.04)(231.3,10.37)(231.9,11.48)(233.2,12.04)(234.5,12.41)(235.8,12.04)(237.1,11.48)(238.3,10.93)(239.6,10.56)(240.9,10.37)(242.0,10.37)(242.9,11.30)(243.5,10.19)(244.8,9.81)(246.1,8.33)(247.4,8.33)(248.7,8.52)(249.9,8.15)(251.2,7.96)(251.9,7.78)(252.8,8.52)(253.5,8.33)(254.4,8.89)(255.1,8.33)(256.4,9.07)(257.7,10.19)(258.3,9.81)(259.0,9.26)(260.2,8.70)(261.3,10.93)(262.2,9.81)(262.8,10.00)(264.1,9.63)(265.4,9.44)(266.4,9.26)(267.7,8.33)(268.4,8.89)(269.0,8.70)(269.7,9.07)(270.3,8.89)(270.9,9.26)(271.6,8.70)(272.2,9.26)(273.5,8.89)(274.8,9.81)(276.1,10.19)(277.4,10.56)(278.7,10.74)(280.6,10.74)(282.5,11.11)(283.8,11.11)(285.8,11.48)(286.4,11.48)(286.8,9.81)(287.3,10.19)(288.3,9.63)(289.0,9.26)(290.3,8.33)(290.9,9.44)(291.6,8.89)(292.2,9.26)(292.8,8.33)(293.5,9.07)(294.1,8.52)(294.8,8.33)(296.1,9.07)(297.3,9.07)(298.6,8.89)(299.9,9.07)(301.2,8.89)(302.5,9.07)(303.8,9.44)(304.4,9.07)(305.1,8.89)(305.7,9.26)(306.4,9.63)(307.7,9.63)(309.6,9.81)(310.9,10.00)(312.2,10.19)(313.5,9.81)(314.7,9.07)(316.0,9.63)(317.3,10.00)(318.6,10.37)(319.9,10.56)(321.2,10.19)(322.5,9.81)(324.4,9.81)(325.7,10.19)(327.6,10.74)(329.6,11.11)(330.8,10.37)(332.1,9.63)(333.4,8.89)(334.7,8.33)(336.0,8.33)(336.6,7.22)(337.3,7.59)(337.9,8.52)(338.6,8.33)(339.9,8.70)(341.2,8.52)(342.4,8.15)(343.7,7.78)(344.4,7.41)(345.3,8.52)(346.3,8.89)(347.6,9.44)(348.6,10.37)(349.5,9.26)(350.2,8.70)(351.5,9.26)(352.7,8.70)(354.0,8.89)(355.3,9.07)(356.6,9.81)(357.9,9.26)(359.2,9.07)(360.5,10.00)(361.8,10.56)(362.4,11.30)(363.1,10.37)(364.3,9.44)(365.6,9.07)(366.9,9.81)(368.2,10.56)(369.5,10.74)(370.8,10.19)(372.1,9.81)(373.4,9.26)(374.6,9.63)(375.9,10.00)(377.2,9.81)(378.5,9.63)(379.8,9.44)(380.4,8.89)(381.5,9.26)(382.1,9.44)(383.0,10.56)(383.7,9.81)(384.3,10.93)(385.0,10.00)(385.6,9.07)(386.2,8.89)(387.5,8.52)(388.2,8.33)(389.5,8.70)(390.8,8.89)(392.7,9.07)(394.0,9.26)(395.3,9.07)(396.6,9.44)(397.8,9.26)(398.5,10.56)(399.1,11.30)(399.8,10.93)(400.4,9.81)(401.1,9.26)(402.3,9.44)(403.6,9.44)(404.9,9.81)(405.6,13.70)};
\end{axis}
% ---------- B
\begin{axis}[rpanel, at={(81.8pt,-564.65pt)}, height=71.65pt, ymin=-160, ymax=40, ytick={-160,-120,-80,-40,0,40}]
\addplot[dline] coordinates {(133.1,-84.7)(133.6,-100.9)(134.6,-119.5)(136.3,-129.8)(137.9,-124.2)(139.8,-114.9)(141.7,-107.9)(143.7,-104.7)(144.9,-105.6)(146.2,-110.2)(147.5,-117.2)(148.8,-119.5)(150.7,-119.5)(152.0,-112.6)(153.3,-100.9)(154.6,-89.3)(156.2,-77.7)(157.2,-82.3)(158.5,-87.0)(159.8,-82.3)(161.0,-77.7)(162.3,-75.3)(163.6,-66.0)(164.9,-56.7)(166.2,-49.8)(167.5,-54.4)(168.8,-63.7)(170.1,-70.7)(171.4,-77.7)(172.6,-75.3)(173.9,-70.7)(175.2,-67.4)(176.5,-68.4)(177.8,-73.0)(179.1,-80.0)(180.4,-84.7)(181.9,-87.0)(183.6,-84.7)(185.5,-75.3)(186.8,-63.7)(188.1,-45.1)(189.4,-31.2)(190.7,-21.9)(192.6,-14.9)(194.5,-10.2)(195.8,-14.9)(197.8,-22.8)(199.1,-26.5)(200.3,-25.6)(202.3,-17.2)(204.2,-14.9)(206.1,-12.6)(208.7,-11.2)(211.3,-8.8)(213.9,-7.0)(216.4,-4.2)(218.4,-3.3)(219.7,-5.6)(221.6,-17.2)(222.9,-31.2)(224.2,-59.1)(225.2,-80.0)(226.1,-81.4)(227.4,-75.3)(228.7,-68.4)(230.0,-63.7)(231.3,-49.8)(232.6,-35.8)(233.9,-17.2)(234.8,-11.2)(235.8,-10.2)(237.1,-17.2)(238.3,-21.9)(239.6,-31.2)(240.9,-42.8)(242.2,-56.7)(243.5,-73.0)(244.8,-91.6)(246.1,-103.3)(247.4,-107.9)(248.7,-106.5)(249.9,-100.9)(251.2,-94.0)(252.5,-91.6)(253.8,-89.3)(255.1,-91.6)(256.4,-87.0)(257.7,-86.0)(259.0,-87.0)(260.2,-89.3)(261.5,-91.6)(263.5,-91.6)(265.4,-91.6)(266.4,-91.6)(268.4,-94.0)(269.6,-95.3)(270.9,-87.0)(272.2,-77.7)(273.5,-68.4)(274.8,-67.4)(276.1,-72.1)(277.4,-70.7)(278.7,-59.1)(280.6,-42.8)(282.5,-26.5)(283.8,-19.5)(285.8,-17.2)(287.0,-18.1)(288.3,-24.2)(289.6,-31.2)(290.9,-40.5)(292.2,-45.1)(294.1,-49.8)(296.1,-56.7)(298.0,-61.4)(299.9,-52.1)(301.9,-38.1)(303.8,-31.2)(305.7,-28.8)(307.7,-21.9)(310.2,-14.9)(312.2,-17.2)(314.1,-19.5)(316.0,-21.9)(318.0,-21.9)(319.3,-19.5)(321.2,-12.6)(323.1,-5.6)(325.0,-0.9)(327.0,0.5)(328.3,2.8)(330.2,3.7)(331.5,1.4)(332.8,-7.9)(334.1,-26.5)(336.0,-54.4)(337.9,-82.3)(339.9,-105.6)(341.8,-121.9)(343.7,-126.5)(345.0,-121.9)(346.9,-107.9)(348.9,-91.6)(350.2,-73.0)(351.5,-84.7)(353.4,-75.3)(355.3,-66.0)(357.3,-59.1)(359.2,-54.4)(361.1,-54.4)(363.1,-49.8)(365.0,-45.1)(366.9,-40.5)(368.8,-42.8)(370.8,-35.8)(372.7,-31.2)(374.6,-28.8)(376.6,-25.6)(378.5,-25.6)(380.4,-21.9)(382.4,-17.2)(385.0,-14.9)(387.5,-8.8)(390.1,-7.0)(392.7,-3.3)(395.3,-0.9)(397.8,3.7)(400.4,6.0)(403.0,5.1)(404.9,3.7)(405.6,5.1)};
\end{axis}
% ---------- A
\begin{axis}[lpanel, at={(81.8pt,-621.15pt)}, height=71.65pt, ymin=0, ymax=5, y dir=reverse, ytick={0,1,2,3,4,5}]
\addplot[dline] coordinates {(133.1,3.17)(133.3,2.53)(133.7,3.06)(134.0,2.59)(134.4,3.35)(134.8,3.17)(135.0,3.87)(135.5,4.22)(135.9,3.52)(136.3,3.76)(136.8,3.41)(137.2,3.81)(137.6,3.52)(138.1,3.93)(138.5,3.64)(138.9,3.99)(139.4,3.52)(139.8,3.99)(140.2,4.05)(140.7,3.70)(141.1,4.10)(141.5,3.35)(141.7,4.05)(142.1,3.93)(142.5,3.41)(142.8,3.76)(143.3,3.76)(143.7,3.17)(144.0,2.13)(144.3,2.83)(144.7,2.48)(145.1,3.06)(145.5,2.71)(145.8,2.48)(146.2,2.83)(146.6,2.36)(147.0,2.94)(147.4,2.42)(147.8,2.71)(148.2,2.36)(148.6,2.83)(148.9,2.53)(149.2,2.01)(149.5,3.06)(149.8,2.42)(150.2,2.94)(150.7,3.35)(151.4,3.47)(152.3,3.41)(153.1,3.03)(153.6,3.17)(154.3,3.64)(155.3,3.81)(155.9,3.76)(156.9,3.93)(157.4,4.05)(158.1,3.76)(158.5,3.17)(159.1,3.35)(160.4,3.23)(161.0,2.94)(161.7,2.36)(162.3,1.66)(163.0,1.37)(163.6,1.20)(164.3,1.14)(164.9,1.26)(165.6,1.43)(166.5,1.72)(167.5,1.55)(168.5,1.49)(169.4,1.41)(170.3,1.37)(171.1,1.55)(171.7,1.78)(172.6,1.43)(173.3,1.14)(173.9,1.08)(174.6,1.20)(175.2,1.95)(175.9,2.19)(176.5,2.24)(177.2,2.36)(177.8,2.53)(178.4,2.59)(179.1,2.48)(179.7,2.94)(180.4,2.65)(181.0,1.84)(181.7,2.71)(182.3,2.83)(182.9,2.24)(183.6,1.84)(184.2,2.01)(184.9,1.95)(185.5,2.13)(186.2,2.24)(186.8,2.01)(187.5,2.94)(187.8,2.71)(188.4,2.65)(188.9,2.36)(189.6,2.13)(190.4,2.01)(191.3,1.84)(192.2,1.66)(193.3,1.66)(193.9,1.43)(194.8,1.37)(195.8,1.43)(196.9,1.55)(197.4,1.37)(198.2,1.72)(198.7,1.55)(199.4,1.78)(200.0,1.20)(200.3,0.97)(200.7,1.43)(201.2,1.72)(201.8,1.55)(202.3,1.78)(202.9,1.84)(203.6,2.13)(204.9,2.42)(206.1,2.59)(208.1,2.48)(210.0,2.34)(212.6,2.22)(215.2,2.13)(217.7,2.07)(219.0,2.13)(220.3,2.30)(221.6,2.83)(222.9,3.00)(224.2,3.06)(225.5,3.00)(226.8,3.03)(228.0,2.83)(228.7,2.94)(229.3,2.48)(229.7,2.01)(230.1,2.65)(230.6,2.48)(231.3,2.59)(231.9,2.53)(234.5,2.24)(237.1,2.07)(239.6,1.72)(240.9,3.12)(241.6,3.23)(242.5,3.12)(243.2,2.36)(243.8,2.83)(244.8,3.06)(246.1,3.17)(247.4,3.17)(248.7,3.23)(249.9,3.06)(250.6,2.94)(251.2,3.23)(251.9,3.35)(252.5,3.06)(253.2,3.41)(253.8,3.06)(254.4,3.23)(255.1,2.94)(256.4,3.12)(257.0,2.83)(257.7,3.29)(258.3,3.00)(259.0,3.17)(259.6,2.83)(260.2,2.94)(260.9,2.71)(261.5,3.17)(262.2,3.29)(262.8,3.06)(263.5,3.35)(264.1,3.41)(264.8,3.64)(265.4,3.47)(266.4,3.64)(267.1,3.76)(267.7,3.52)(268.4,3.70)(269.0,3.52)(269.7,3.64)(270.3,3.41)(270.9,3.70)(271.6,3.47)(272.2,3.64)(272.9,3.41)(273.5,3.58)(274.2,3.35)(274.8,3.17)(275.4,2.83)(275.7,3.41)(276.1,2.24)(276.5,3.41)(276.7,2.48)(277.4,2.71)(278.0,2.42)(279.3,2.42)(280.6,2.30)(281.9,2.24)(283.2,2.19)(284.5,2.13)(285.8,2.13)(287.0,2.19)(288.3,2.30)(289.6,2.59)(290.9,2.83)(292.2,2.94)(293.5,2.97)(294.8,3.03)(296.1,3.08)(297.3,3.12)(298.6,2.83)(299.9,2.53)(301.2,2.30)(302.5,2.24)(303.8,2.22)(305.1,2.19)(305.7,3.06)(307.7,3.03)(309.6,3.00)(311.5,2.97)(312.8,2.94)(314.1,3.12)(315.1,3.23)(316.0,3.06)(317.3,2.83)(318.6,2.77)(319.5,3.00)(320.5,2.77)(321.8,2.48)(323.1,2.24)(324.4,2.13)(326.3,2.07)(328.3,2.05)(329.6,2.13)(330.8,2.30)(331.2,2.92)(332.1,2.24)(333.4,2.42)(334.7,2.53)(336.0,2.71)(336.6,2.88)(337.3,3.17)(337.9,2.71)(338.6,2.13)(339.0,2.83)(339.3,2.59)(339.9,2.65)(340.5,2.71)(341.2,2.48)(341.8,2.71)(342.4,2.94)(343.1,2.59)(343.7,2.83)(344.1,3.35)(344.5,3.76)(345.0,3.35)(345.7,3.47)(346.3,3.35)(346.9,3.41)(347.6,3.29)(348.2,3.47)(348.9,3.29)(349.5,3.17)(350.2,3.35)(350.4,2.88)(350.8,3.17)(351.2,3.35)(351.5,3.06)(352.1,3.41)(352.7,3.17)(353.4,2.83)(354.0,2.30)(354.4,3.17)(354.8,3.41)(355.3,3.76)(356.0,3.52)(356.6,3.47)(357.3,3.76)(357.9,3.87)(358.5,4.05)(359.2,3.93)(359.8,3.76)(360.5,3.64)(361.1,3.41)(361.5,2.88)(362.0,3.35)(362.5,3.17)(363.1,3.47)(363.6,3.17)(364.1,3.52)(364.6,3.06)(365.1,3.47)(365.6,3.17)(366.1,3.52)(366.7,3.00)(367.2,3.35)(367.7,3.17)(368.2,3.47)(368.7,2.94)(369.2,3.29)(369.8,2.83)(370.3,3.41)(370.8,3.06)(371.3,3.29)(371.8,3.12)(372.3,2.48)(372.8,3.29)(373.4,3.06)(373.9,3.23)(374.4,3.06)(374.9,3.17)(375.4,3.12)(375.9,3.17)(376.6,3.06)(377.2,3.17)(377.9,3.06)(378.5,3.17)(379.2,2.83)(379.8,3.23)(380.4,3.12)(381.1,3.23)(381.7,2.94)(382.4,2.59)(383.0,2.24)(383.7,2.48)(384.3,2.83)(385.0,3.06)(385.6,3.29)(386.2,2.94)(386.9,3.17)(387.5,3.12)(388.2,3.00)(388.8,3.17)(389.5,3.35)(390.8,3.29)(392.0,3.23)(393.3,3.15)(394.6,3.12)(395.9,2.94)(397.2,2.65)(398.5,2.19)(399.8,1.84)(401.1,1.78)(402.3,1.84)(403.6,1.95)(404.2,1.78)(404.9,1.60)(405.9,1.43)};
\end{axis}
% ---------- texts
\begin{scope}[every node/.style={text=txtgray}]
\node[rotate=90, font=\lbl] at (50pt,-56.75pt) {Log\textsubscript{10}(benthic test*g\textsuperscript{-1})};
\node[rotate=90, font=\lbl, align=center] at (35.75pt,-197.5pt) {eutrophic-mesotrophic\\(e-m index)};
\node[rotate=90, font=\lbl] at (46.5pt,-347.5pt) {Sr-CaCO\textsubscript{3} index};
\node[rotate=90, font=\lbl, align=center] at (42pt,-471.5pt) {C/N ratio of\\organic matter};
\node[rotate=90, font=\lbl] at (53.5pt,-584.5pt) {δO\textsuperscript{18} \textit{G. bulloides}};
\node[rotate=90, font=\lbl, align=center] at (530.75pt,-118.5pt) {Eutrophic\\benthic factor};
\node[rotate=90, font=\lbl, align=center] at (534.5pt,-272pt) {Mesotrophic\\benthic factor};
\node[rotate=90, font=\lbl] at (527.25pt,-406.75pt) {\%CaCO\textsubscript{3}};
\node[rotate=90, font=\lbl, align=center] at (534pt,-528.5pt) {Sea level (m)\\Waelbroeck et al. 2002};
\node[font=\lbl] at (12pt,-30.8pt) {I};
\node[font=\lbl] at (9.8pt,-172.5pt) {G};
\node[font=\lbl] at (9.8pt,-322.5pt) {E};
\node[font=\lbl] at (9.8pt,-442.5pt) {C};
\node[font=\lbl] at (9.8pt,-565pt) {A};
\node[font=\lbl] at (554pt,-80pt) {H};
\node[font=\lbl] at (553.2pt,-244.2pt) {F};
\node[font=\lbl] at (554pt,-375.8pt) {D};
\node[font=\lbl] at (554pt,-496.5pt) {B};
\node[font=\lbl] at (288.4pt,-652.5pt) {Age (kyr)};
\foreach \t/\x in {6c/114.3,6e/146.45,7a/178,7c/207,7e/236.5,8c/268.2,8e/299.65,9a/330.9,9c/362.15,11c/466.6}
  \node[font=\ann] at (\x pt,-558.35pt) {\t};
\foreach \t/\x in {6b/100.9,6d/125,6f/161.6,7b/192,7d/221.45,8b/251.8,8d/282.7,8f/316.6,9b/346.45,10d/404.1}
  \node[font=\ann] at (\x pt,-615.5pt) {\t};
\node[font=\ann] at (440.7pt,-575.85pt) {11.23};
\node[font=\ann] at (430pt,-607.5pt) {11.22};
\node[font=\ann] at (452.3pt,-607.5pt) {11.24};
\end{scope}
\end{tikzpicture}
\end{document}
